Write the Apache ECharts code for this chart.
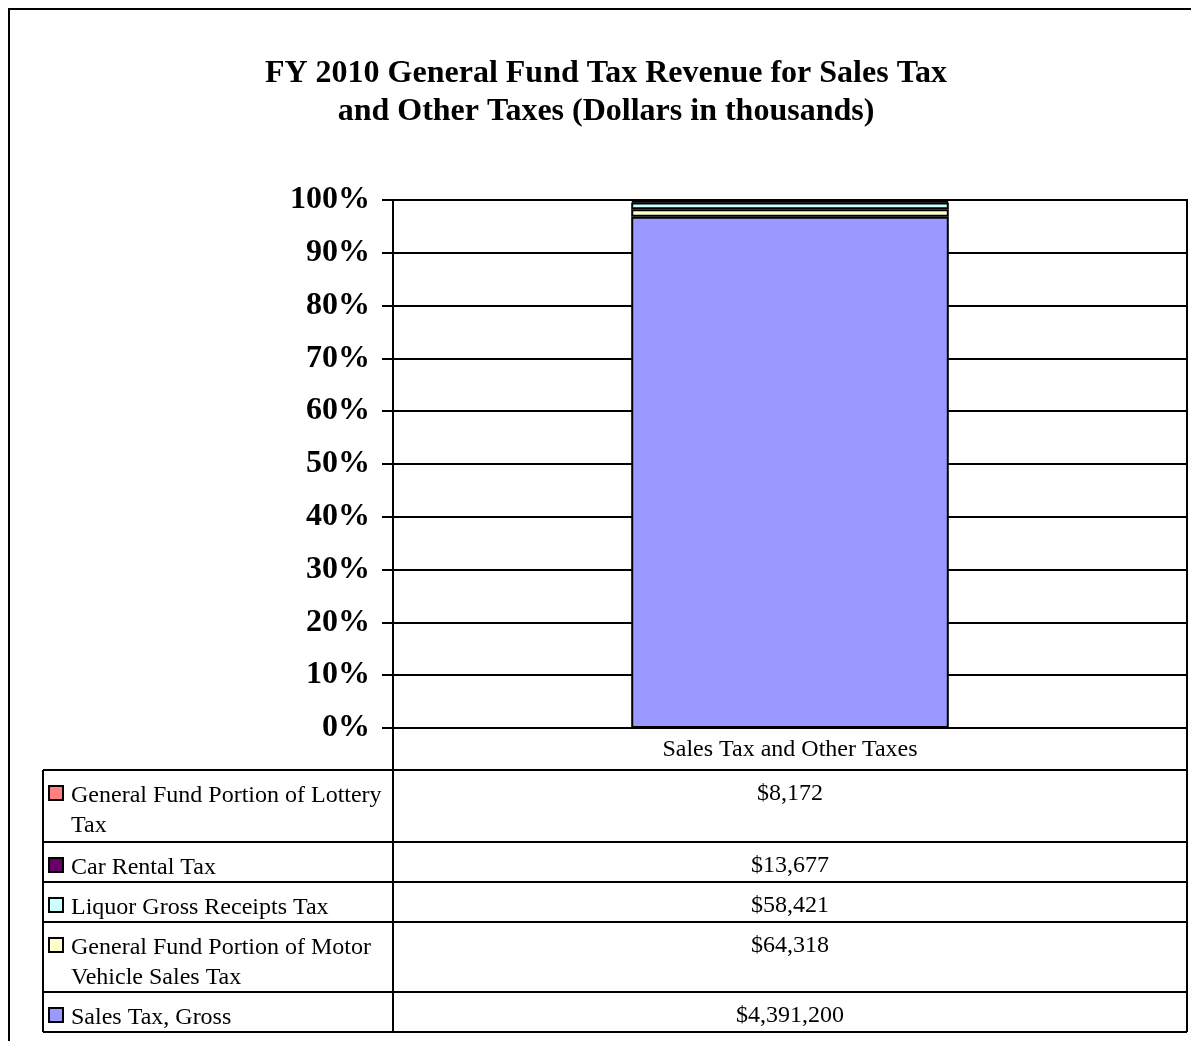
<!DOCTYPE html>
<html>
<head>
<meta charset="utf-8">
<script src="https://cdn.jsdelivr.net/npm/echarts@6/dist/echarts.min.js"></script>
<style>
  html, body { margin: 0; padding: 0; background: #fff; }
  #chart { width: 1191px; height: 1041px; }
</style>
</head>
<body>
<div id="chart"></div>
<script>
// data (dollars in thousands), listed top of table to bottom
const category = 'Sales Tax and Other Taxes';
const seriesNames = [
  'General Fund Portion of Lottery Tax',
  'Car Rental Tax',
  'Liquor Gross Receipts Tax',
  'General Fund Portion of Motor Vehicle Sales Tax',
  'Sales Tax, Gross'
];
const seriesValues = [8172, 13677, 58421, 64318, 4391200];
const seriesColors = ['#FF8080', '#660066', '#CCFFFF', '#FFFFCC', '#9999FF'];
const yTicks = [0, 10, 20, 30, 40, 50, 60, 70, 80, 90, 100];

const FONT = '"Liberation Serif", "Times New Roman", serif';

// layout
const plotLeft = 393, plotRight = 1187, plotTop = 200, plotBottom = 728;
const tableLeft = 43;
const catRowBottom = 770;
const rowHeights = [72, 40, 40, 70, 40];

const total = seriesValues.reduce((a, b) => a + b, 0);

// stacked bottom-up: reverse order of the table
const series = [];
for (let i = seriesNames.length - 1; i >= 0; i--) {
  series.push({
    name: seriesNames[i],
    type: 'bar',
    stack: 'all',
    barWidth: '40%',
    data: [seriesValues[i] / total * 100],
    itemStyle: { color: seriesColors[i], borderColor: '#000', borderWidth: 2 }
  });
}

// data table drawn with graphic elements
const graphic = [];
// outer frame
graphic.push({
  type: 'rect', shape: { x: 9, y: 9, width: 1200, height: 1100 },
  style: { fill: 'none', stroke: '#000', lineWidth: 2 }, silent: true
});
let y = catRowBottom;
const hLines = [catRowBottom];
seriesNames.forEach((name, i) => {
  const h = rowHeights[i];
  // marker
  graphic.push({
    type: 'rect', shape: { x: 49, y: y + 16, width: 14, height: 14 },
    style: { fill: seriesColors[i], stroke: '#000', lineWidth: 2 }
  });
  graphic.push({
    type: 'text', x: 71, y: y + 11,
    style: {
      text: name, font: '24px ' + FONT, fill: '#000',
      width: 318, overflow: 'break', lineHeight: 30
    }
  });
  graphic.push({
    type: 'text', x: (plotLeft + plotRight) / 2, y: y + 12,
    style: {
      text: '$' + seriesValues[i].toLocaleString('en-US'),
      font: '24px ' + FONT, fill: '#000', align: 'center'
    }
  });
  y += h;
  hLines.push(y);
});
hLines.forEach(ly => {
  graphic.push({
    type: 'line', shape: { x1: tableLeft, y1: ly, x2: plotRight, y2: ly },
    style: { stroke: '#000', lineWidth: 2 }
  });
});
graphic.push({
  type: 'line', shape: { x1: tableLeft, y1: catRowBottom, x2: tableLeft, y2: y },
  style: { stroke: '#000', lineWidth: 2 }
});
[plotLeft, plotRight].forEach(lx => {
  graphic.push({
    type: 'line', shape: { x1: lx, y1: plotBottom, x2: lx, y2: y },
    style: { stroke: '#000', lineWidth: 2 }
  });
});

const chart = echarts.init(document.getElementById('chart'), null, { renderer: 'canvas' });
chart.setOption({
  backgroundColor: '#fff',
  animation: false,
  title: {
    text: 'FY 2010 General Fund Tax Revenue for Sales Tax\nand Other Taxes (Dollars in thousands)',
    left: 601, top: 50, textAlign: 'center',
    textStyle: { fontFamily: FONT, fontSize: 32, fontWeight: 'bold', color: '#000', lineHeight: 38 }
  },
  grid: {
    left: plotLeft, top: plotTop, width: plotRight - plotLeft, height: plotBottom - plotTop,
    show: true, borderColor: '#000', borderWidth: 2, backgroundColor: '#fff'
  },
  xAxis: {
    type: 'category',
    data: [category],
    axisLine: { lineStyle: { color: '#000', width: 2 } },
    axisTick: { show: false },
    axisLabel: { margin: 10, fontFamily: FONT, fontSize: 24, color: '#000' }
  },
  yAxis: {
    type: 'value',
    min: yTicks[0], max: yTicks[yTicks.length - 1], interval: yTicks[1] - yTicks[0],
    axisLine: { show: true, lineStyle: { color: '#000', width: 2 } },
    axisTick: { show: true, length: 11, lineStyle: { color: '#000', width: 2 } },
    splitLine: { show: true, lineStyle: { color: '#000', width: 2 } },
    axisLabel: {
      margin: 23, fontFamily: FONT, fontSize: 32, fontWeight: 'bold', color: '#000',
      padding: [5, 0, 0, 0],
      formatter: v => v + '%'
    }
  },
  series: series,
  graphic: graphic
});
</script>
</body>
</html>
